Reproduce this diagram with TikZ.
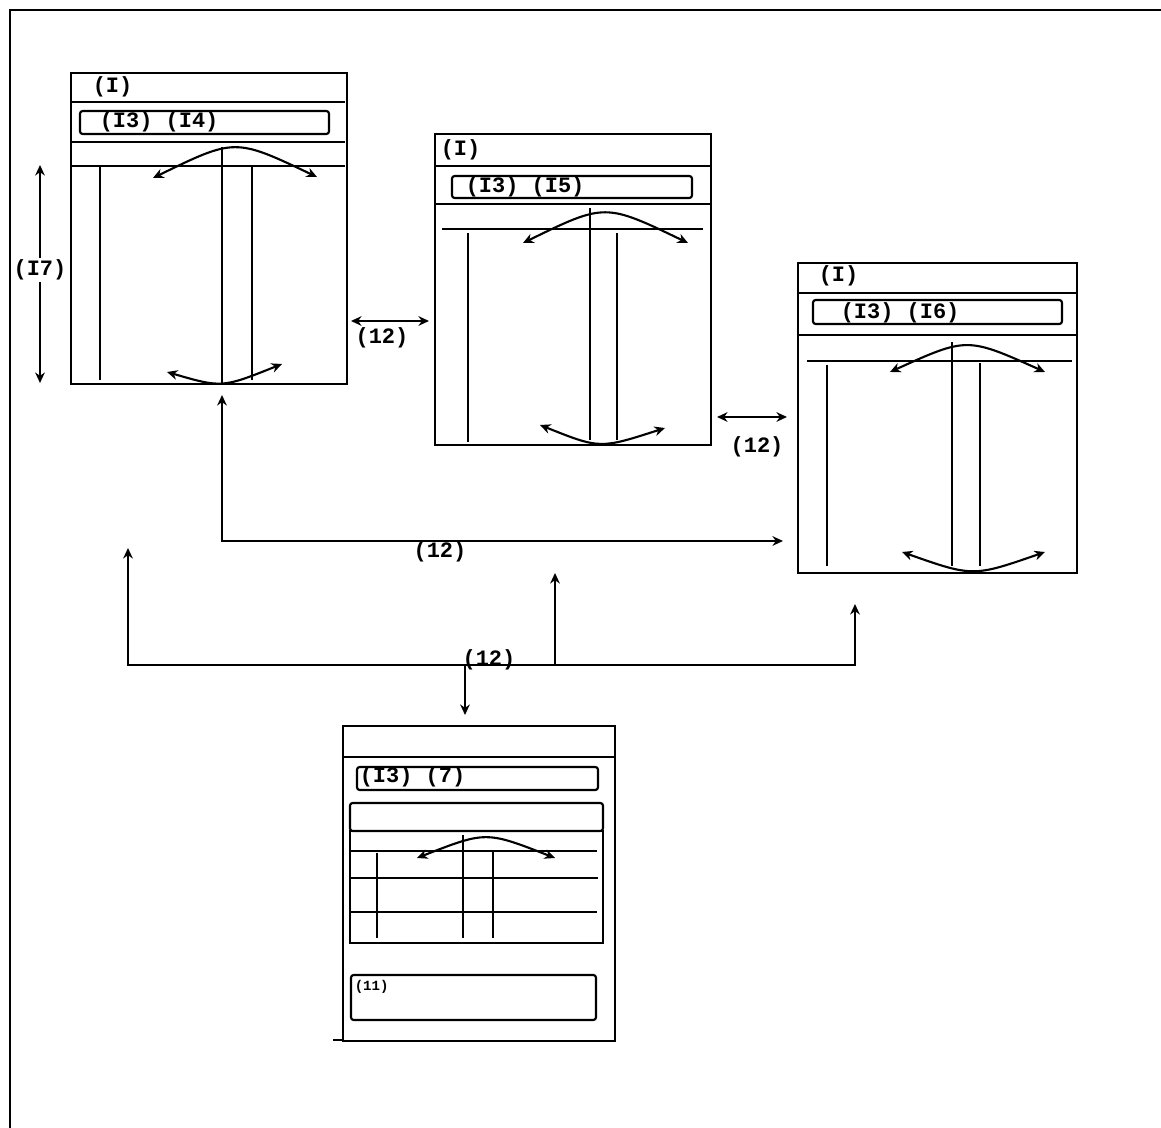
\documentclass[tikz,border=0pt]{standalone}
\usepackage{fontspec}
\setmonofont{Liberation Mono}
\usetikzlibrary{arrows.meta, positioning}

\begin{document}
\begin{tikzpicture}[x=0.02cm, y=-0.02cm, >={Stealth[length=6pt,width=5.5pt]}, line width=1.2pt,
  font=\ttfamily\bfseries\fontsize{12.5}{14}\selectfont]
  \tikzset{
    win/.style={draw, rectangle, inner sep=0pt, anchor=north west,
      minimum width=5.52cm, minimum height=6.22cm},
    field/.style={draw, rounded corners=1.5pt},
    lbl/.style={inner sep=1pt}
  }
  \useasboundingbox (0,0) rectangle (1161,1128);
  % Sheet frame
  \draw (10,1128) -- (10,10) -- (1161,10);

  % Window 1
  \node[win] (w1) at (70,72) {};
  \node[lbl, anchor=west] (w1t) at (90,87) {(I)};
  \draw (70,102) -- (345,102);
  \draw[field] (80,111) rectangle (329,134);
  \node[lbl, anchor=west] (w1f) at (97,122) {(I3) (I4)};
  \draw (70,142) -- (345,142);
  \draw (70,166) -- (345,166);
  \draw (100,167) -- (100,380);
  \draw (222,147) -- (222,383);
  \draw (252,167) -- (252,380);
  \draw[<->] (153,178) .. controls (235,138) .. (317,177);
  \draw[<->] (167,372) .. controls (222,388) .. (282,364);

  % Window 2
  \node[win] (w2) at (434,133) {};
  \node[lbl, anchor=west] (w2t) at (438,150) {(I)};
  \draw (434,166) -- (710,166);
  \draw[field] (452,176) rectangle (692,198);
  \node[lbl, anchor=west] (w2f) at (463,187) {(I3) (I5)};
  \draw (434,204) -- (710,204);
  \draw (442,229) -- (703,229);
  \draw (468,233) -- (468,442);
  \draw (590,208) -- (590,440);
  \draw (617,233) -- (617,440);
  \draw[<->] (523,243) .. controls (605,203) .. (688,243);
  \draw[<->] (540,425) .. controls (600,449) .. (665,428);

  % Window 3
  \node[win, minimum width=5.58cm, minimum height=6.2cm] (w3) at (797,262) {};
  \node[lbl, anchor=west] (w3t) at (816,276) {(I)};
  \draw (797,293) -- (1076,293);
  \draw[field] (813,300) rectangle (1062,324);
  \node[lbl, anchor=west] (w3f) at (838,313) {(I3) (I6)};
  \draw (797,335) -- (1076,335);
  \draw (807,361) -- (1072,361);
  \draw (827,365) -- (827,566);
  \draw (952,342) -- (952,566);
  \draw (980,363) -- (980,566);
  \draw[<->] (890,372) .. controls (967,337) .. (1045,372);
  \draw[<->] (902,552) .. controls (973,577) .. (1045,552);

  % Window 4
  \node[win, minimum width=5.44cm, minimum height=6.3cm] (w4) at (342,725) {};
  \draw (342,757) -- (614,757);
  \draw[field] (357,767) rectangle (598,790);
  \node[lbl, anchor=west] (w4f) at (357,777) {(I3) (7)};
  \draw[field] (350,803) rectangle (603,831);
  \draw (350,831) rectangle (603,943);
  \draw (350,851) -- (597,851);
  \draw (350,878) -- (598,878);
  \draw (350,912) -- (597,912);
  \draw (377,853) -- (377,938);
  \draw (463,835) -- (463,938);
  \draw (493,852) -- (493,938);
  \draw[<->] (417,858) .. controls (486,831) .. (555,858);
  \draw[field] (351,975) rectangle (596,1020);
  \node[lbl, anchor=north west, font=\ttfamily\bfseries\fontsize{8}{9}\selectfont] (w4n) at (352,978) {(11)};
  \draw (333,1040) -- (342,1040);

  % Height of window 1
  \coordinate (h1) at (40,165);
  \coordinate (h2) at (40,383);
  \draw[<->] (h1) -- (h2);
  \node[lbl, fill=white] (hl) at (40,270) {(I7)};

  % Links between windows
  \coordinate (a1) at (351,321);
  \coordinate (a2) at (429,321);
  \draw[<->] (a1) -- (a2);
  \node[lbl] (al) at (382,338) {(12)};
  \coordinate (b1) at (717,417);
  \coordinate (b2) at (787,417);
  \draw[<->] (b1) -- (b2);
  \node[lbl] (bl) at (757,447) {(12)};
  \coordinate (c1) at (222,395);
  \coordinate (c2) at (783,541);
  \draw[<->] (c1) |- (c2);
  \node[lbl, anchor=north] (cl) at (440,539) {(12)};

  % Common bus to window 4
  \coordinate (e1) at (128,548);
  \coordinate (e2) at (555,573);
  \coordinate (e3) at (855,604);
  \coordinate (bus) at (128,665);
  \coordinate (d1) at (465,665);
  \coordinate (d2) at (465,715);
  \draw[<->] (e1) -- (bus) -| (e3);
  \draw[->] (e2 |- bus) -- (e2);
  \draw[->] (d1) -- (d2);
  \node[lbl] (dl) at (489,660) {(12)};
\end{tikzpicture}
\end{document}
